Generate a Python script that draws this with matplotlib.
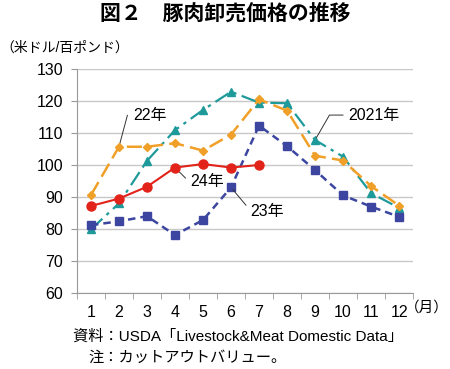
import matplotlib.pyplot as plt
import numpy as np

plt.rcParams['font.family'] = ['Liberation Sans', 'Noto Sans CJK JP', 'DejaVu Sans']

# データ
months = list(range(1, 13))
month_labels = [str(m) for m in months]
y2021 = [79.9, 88.0, 101.3, 110.9, 117.2, 122.9, 119.5, 119.3, 107.8, 102.6, 91.2, 86.6]
y2022 = [90.6, 105.7, 105.7, 106.8, 104.5, 109.5, 120.5, 117.0, 102.9, 101.4, 93.4, 87.3]
y2023 = [81.2, 82.4, 84.0, 78.1, 82.8, 93.0, 112.3, 105.9, 98.4, 90.5, 87.0, 83.8]
y2024 = [87.2, 89.5, 93.2, 99.2, 100.3, 99.2, 100.0]
yticks = [60, 70, 80, 90, 100, 110, 120, 130]

fig = plt.figure(figsize=(4.5, 3.69), dpi=100)
ax = fig.add_axes([0.171, 0.206, 0.747, 0.607])

# 系列
ax.plot(months, y2021, color='#1f9a9a', lw=1.6, dashes=(7, 2.5, 1.5, 2.5),
        marker='^', ms=6, zorder=3)
ax.plot(months, y2022, color='#f0a028', lw=1.8, dashes=(6, 2.5),
        marker='D', ms=4.5, zorder=4)
ax.plot(months, y2023, color='#3c46a0', lw=1.8, dashes=(3, 2),
        marker='s', ms=6, zorder=3)
ax.plot(months[:len(y2024)], y2024, color='#e2231a', lw=1.5,
        marker='o', ms=6.5, zorder=5)

ax.set_xlim(0.5, 12.5)
ax.set_ylim(60, 130)
ax.set_yticks(yticks)
ax.set_xticks(months)
ax.set_xticklabels(month_labels)
ax.set_xticks(np.arange(0.5, 13, 1), minor=True)
ax.tick_params(axis='x', which='major', length=0, labelsize=11.5, pad=9)
ax.tick_params(axis='x', which='minor', length=4, color='#999999', direction='out')
ax.tick_params(axis='y', length=4, color='#999999', labelsize=11.5, pad=6)
ax.grid(axis='y', color='#c8c8c8', lw=1)
ax.set_axisbelow(True)
for s in ['top', 'right']:
    ax.spines[s].set_visible(False)
for s in ['left', 'bottom']:
    ax.spines[s].set_color('#999999')

# 系列ラベル
lab = dict(fontsize=11.5, va='center', ha='left')
ax.annotate('22年', xy=(2, y2022[1]), xytext=(2.5, 115.6), **lab,
            arrowprops=dict(arrowstyle='-', color='#333333', lw=0.7,
                            connectionstyle='angle,angleA=0,angleB=75,rad=0'))
ax.annotate('24年', xy=(4, y2024[3]), xytext=(4.55, 94.8), **lab,
            arrowprops=dict(arrowstyle='-', color='#333333', lw=0.7,
                            connectionstyle='angle,angleA=0,angleB=-45,rad=0'))
ax.annotate('23年', xy=(6, y2023[5]), xytext=(6.7, 85.4), **lab,
            arrowprops=dict(arrowstyle='-', color='#333333', lw=0.7,
                            connectionstyle='angle,angleA=0,angleB=-50,rad=0'))
ax.annotate('2021年', xy=(9, y2021[8]), xytext=(10.2, 115.6), **lab,
            arrowprops=dict(arrowstyle='-', color='#333333', lw=0.7,
                            connectionstyle='angle,angleA=0,angleB=60,rad=0'))

fig.text(0.5, 0.962, '図２　豚肉卸売価格の推移', ha='center', va='center',
         fontsize=15, fontweight='bold')
fig.text(0.0, 0.872, '（米ドル/百ポンド）', ha='left', va='center', fontsize=10)
fig.text(0.998, 0.166, '（月）', ha='right', va='center', fontsize=10.5)
fig.text(0.162, 0.087, '資料：USDA「Livestock&Meat Domestic Data」',
         ha='left', va='center', fontsize=11)
fig.text(0.196, 0.030, '注：カットアウトバリュー。', ha='left', va='center', fontsize=11)

plt.savefig('out.png', dpi=100)
